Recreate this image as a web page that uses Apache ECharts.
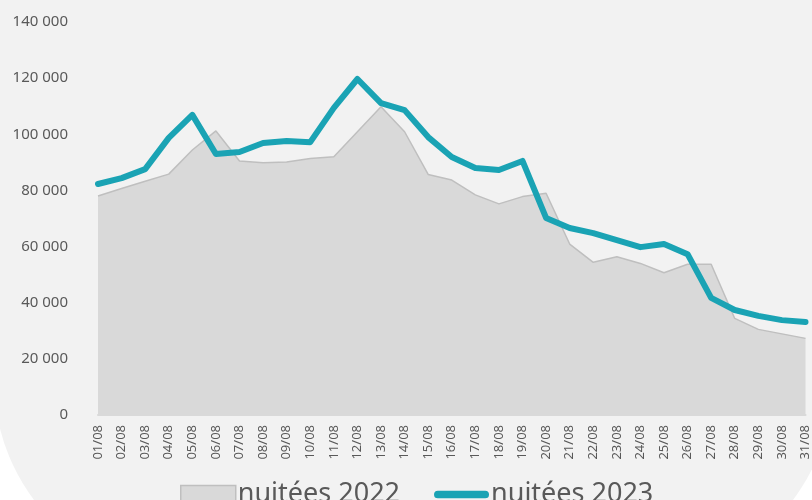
<!DOCTYPE html>
<html>
<head>
<meta charset="utf-8">
<script src="https://cdn.jsdelivr.net/npm/echarts@6/dist/echarts.min.js"></script>
<style>
html,body{margin:0;padding:0;background:#ffffff;}
#chart{width:812px;height:500px;}
</style>
</head>
<body>
<div id="chart"></div>
<script>
var days = ['01/08','02/08','03/08','04/08','05/08','06/08','07/08','08/08','09/08','10/08','11/08','12/08','13/08','14/08','15/08','16/08','17/08','18/08','19/08','20/08','21/08','22/08','23/08','24/08','25/08','26/08','27/08','28/08','29/08','30/08','31/08'];
var nuitees2022 = [78000, 80700, 83300, 85800, 94400, 101200, 90500, 89900, 90100, 91400, 92000, 100900, 109800, 100900, 85700, 83700, 78400, 75200, 77800, 79000, 60900, 54400, 56400, 54000, 50700, 53700, 53700, 34400, 30500, 28900, 27300];
var nuitees2023 = [82300, 84400, 87600, 98700, 106900, 93000, 93700, 96900, 97600, 97200, 109400, 119700, 111100, 108600, 99000, 91900, 88000, 87300, 90500, 70200, 66600, 64800, 62300, 59800, 60900, 57300, 41700, 37400, 35300, 33800, 33100];
var seriesNames = ['nuitées 2022', 'nuitées 2023'];

var chart = echarts.init(document.getElementById('chart'), null, {renderer: 'canvas'});
var font = '"Noto Sans", "Open Sans", sans-serif';
chart.setOption({
  animation: false,
  backgroundColor: 'transparent',
  textStyle: {fontFamily: font},
  graphic: [{
    type: 'rect',
    z: -10,
    silent: true,
    shape: {x: -6, y: -300, width: 839, height: 880, r: 200},
    style: {fill: '#f2f2f2'}
  }],
  grid: {left: 98, right: 6, top: 22, bottom: 85, containLabel: false},
  legend: {
    left: 175,
    top: 476,
    itemWidth: 55,
    itemHeight: 18,
    itemGap: 34,
    textStyle: {fontSize: 27, color: '#595959', fontFamily: font, padding: [0, 0, 0, -3]},
    data: [
      {name: seriesNames[0], icon: 'rect', itemStyle: {color: '#d9d9d9', borderColor: '#bfbfbf', borderWidth: 1.5}},
      {name: seriesNames[1], icon: 'path://M4,0 H53 A4,4 0 0 1 53,8 H4 A4,4 0 0 1 4,0 Z', itemStyle: {color: '#1aa3b4', borderWidth: 0}}
    ]
  },
  xAxis: {
    type: 'category',
    data: days,
    boundaryGap: false,
    axisLine: {show: true, lineStyle: {color: '#d9d9d9', width: 2}},
    axisTick: {show: false},
    axisLabel: {rotate: 90, fontSize: 13, color: '#595959', margin: 10, interval: 0, fontFamily: font}
  },
  yAxis: {
    type: 'value',
    min: 0,
    max: 140000,
    interval: 20000,
    axisLine: {show: false},
    axisTick: {show: false},
    splitLine: {show: false},
    axisLabel: {
      fontSize: 15,
      color: '#595959',
      margin: 30,
      fontFamily: font,
      formatter: function (v) { return String(v).replace(/\B(?=(\d{3})+(?!\d))/g, ' '); }
    }
  },
  series: [
    {
      name: seriesNames[0],
      type: 'line',
      data: nuitees2022,
      showSymbol: false,
      symbol: 'none',
      lineStyle: {color: '#bfbfbf', width: 1.5},
      itemStyle: {color: '#d9d9d9'},
      areaStyle: {color: '#d9d9d9', opacity: 1},
      z: 2
    },
    {
      name: seriesNames[1],
      type: 'line',
      data: nuitees2023,
      showSymbol: false,
      symbol: 'none',
      lineStyle: {color: '#1aa3b4', width: 6, cap: 'round', join: 'round'},
      itemStyle: {color: '#1aa3b4'},
      z: 3
    }
  ]
});
</script>
</body>
</html>
